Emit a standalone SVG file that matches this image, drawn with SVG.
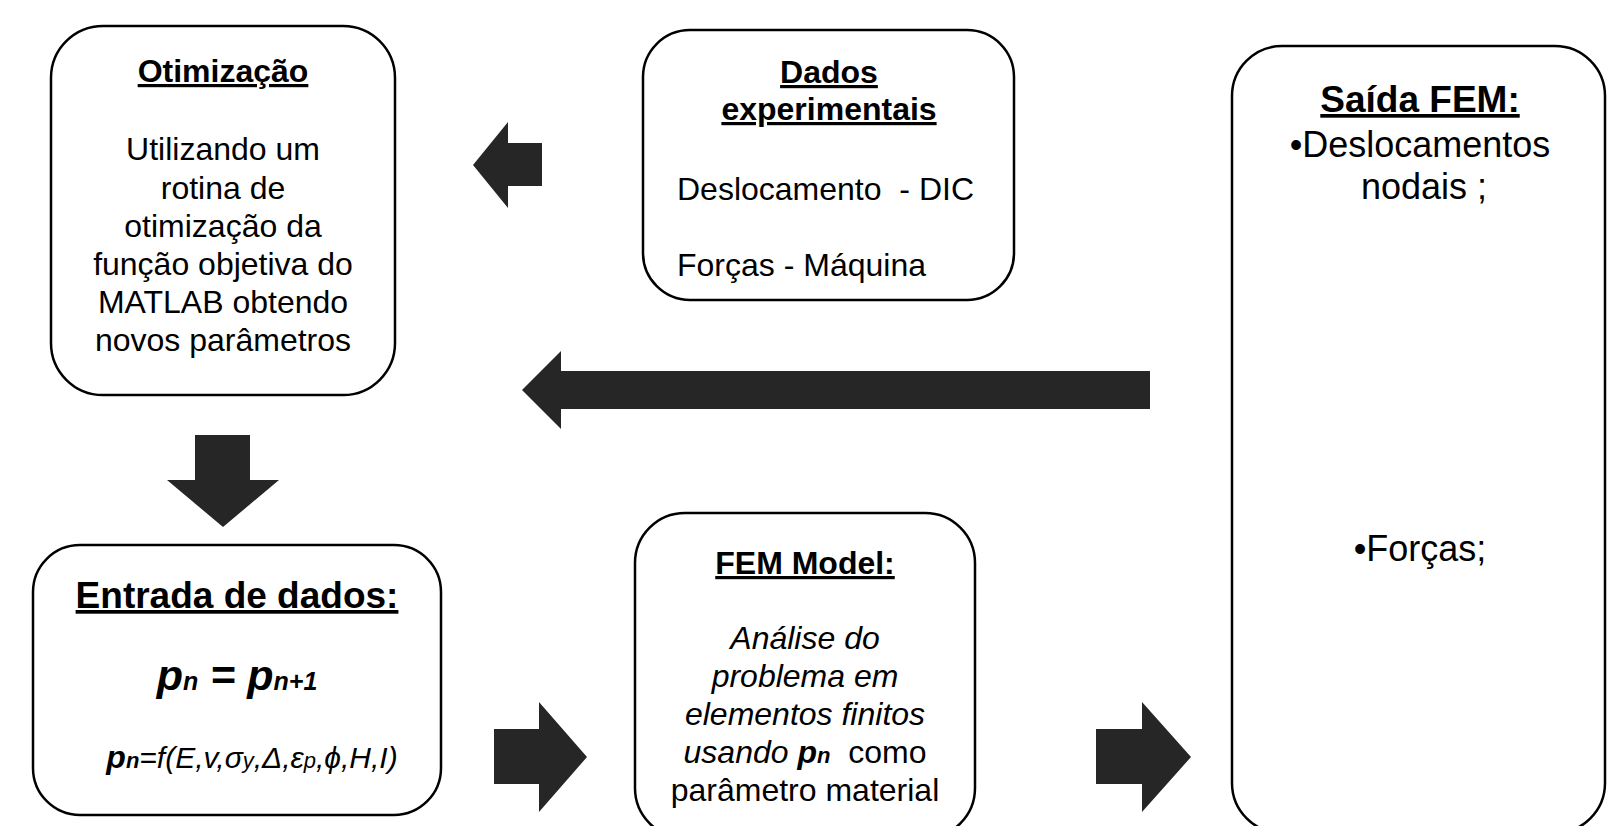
<svg xmlns="http://www.w3.org/2000/svg" width="1608" height="826" viewBox="0 0 1608 826">
<style>
.box{fill:#fff;stroke:#000;stroke-width:2.5}
.arr{fill:#262626}
text{font-family:"Liberation Sans",Arial,sans-serif;fill:#000}
.t{font-size:32px;text-anchor:middle}
.b{font-weight:bold}
.u{text-decoration:underline}
.i{font-style:italic}
.big{font-size:37px}
</style>
<rect width="1608" height="826" fill="#fff"/>
<g id="connectors">
<polygon class="arr" points="473,165 508,122 508,143 542,143 542,186 508,186 508,208"/>
<polygon class="arr" points="522,390 561,351 561,371 1150,371 1150,409 561,409 561,429"/>
<polygon class="arr" points="195,435 250,435 250,480 279,480 223,527 167,480 195,480"/>
<polygon class="arr" points="494,729 539,729 539,702 587,757 539,812 539,784 494,784"/>
<polygon class="arr" points="1096,729 1142,729 1142,702 1191,757 1142,812 1142,784 1096,784"/>
</g>
<g id="otimizacao">
<rect class="box" x="51" y="26" width="344" height="369" rx="52"/>
<text class="t b u" x="223" y="82">Otimização</text>
<text class="t" x="223" y="160">Utilizando um</text>
<text class="t" x="223" y="199">rotina de</text>
<text class="t" x="223" y="237">otimização da</text>
<text class="t" x="223" y="275">função objetiva do</text>
<text class="t" x="223" y="313">MATLAB obtendo</text>
<text class="t" x="223" y="351">novos parâmetros</text>
</g>
<g id="dados">
<rect class="box" x="643" y="30" width="371" height="270" rx="47"/>
<text class="t b u" x="829" y="83">Dados</text>
<text class="t b u" x="829" y="120">experimentais</text>
<text x="677" y="200" font-size="32" xml:space="preserve">Deslocamento  - DIC</text>
<text x="677" y="276" font-size="32">Forças - Máquina</text>
</g>
<g id="saida">
<rect class="box" x="1232" y="46" width="373" height="787" rx="50"/>
<text class="t b u big" x="1420" y="112">Saída FEM:</text>
<text x="1420" y="157" font-size="36" text-anchor="middle">•Deslocamentos</text>
<text x="1424" y="199" font-size="36" text-anchor="middle">nodais ;</text>
<text x="1420" y="561" font-size="36" text-anchor="middle">•Forças;</text>
</g>
<g id="entrada">
<rect class="box" x="33" y="545" width="408" height="270" rx="47"/>
<text class="t b u big" x="237" y="608">Entrada de dados:</text>
<text x="237" y="690" text-anchor="middle" font-weight="bold" font-style="italic" font-size="43" xml:space="preserve">p<tspan font-size="25">n</tspan> = p<tspan font-size="25">n+1</tspan></text>
<text x="252" y="768" text-anchor="middle" font-style="italic" font-size="30">
<tspan font-weight="bold" font-size="32">p</tspan><tspan font-weight="bold" font-size="22">n</tspan>=f(E,v,σ<tspan font-size="22">y</tspan>,Δ,ε<tspan font-size="22">p</tspan>,ϕ,H,I)</text>
</g>
<g id="fem">
<rect class="box" x="635" y="513" width="340" height="325" rx="50"/>
<text class="t b u" x="805" y="574">FEM Model:</text>
<text class="t i" x="805" y="649">Análise do</text>
<text class="t i" x="805" y="687">problema em</text>
<text class="t i" x="805" y="725">elementos finitos</text>
<text class="t" x="805" y="763" xml:space="preserve"><tspan font-style="italic">usando </tspan><tspan font-weight="bold" font-style="italic">p</tspan><tspan font-weight="bold" font-style="italic" font-size="22">n</tspan>  como</text>
<text class="t" x="805" y="801">parâmetro material</text>
</g>
</svg>
